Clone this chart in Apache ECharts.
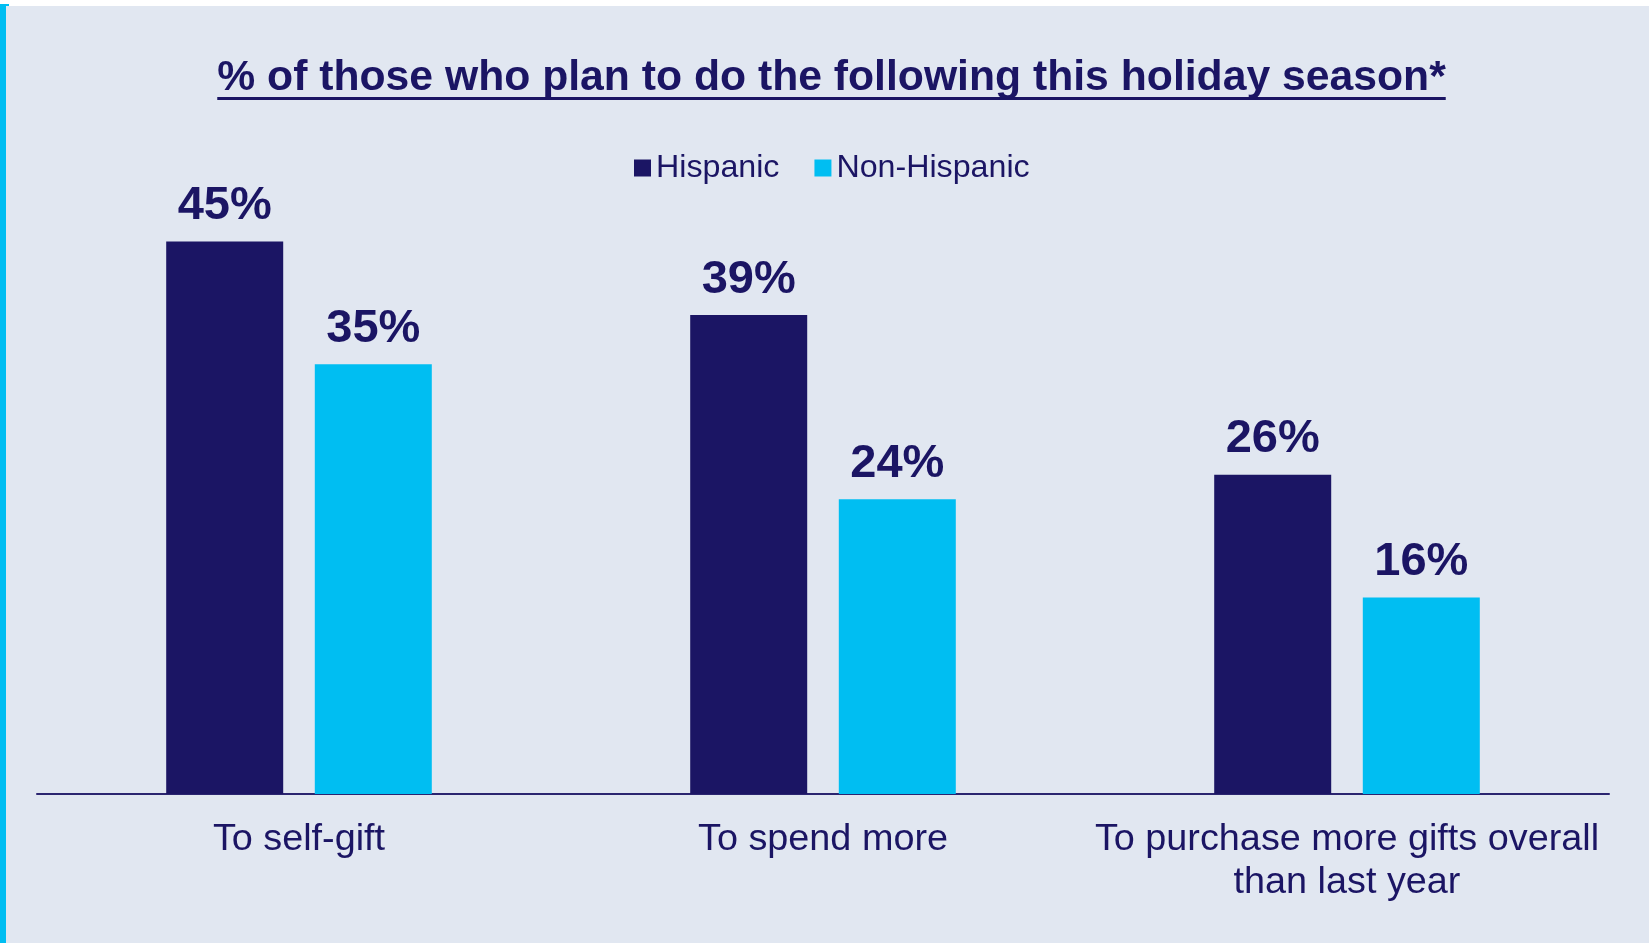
<!DOCTYPE html>
<html>
<head>
<meta charset="utf-8">
<title>Holiday plans</title>
<script src="https://cdn.jsdelivr.net/npm/echarts@6/dist/echarts.min.js"></script>
<style>
  html, body { margin: 0; padding: 0; background: #ffffff; }
  #main { width: 1649px; height: 943px; }
</style>
</head>
<body>
<div id="main"></div>
<script>
  // data
  var categories = ['To self-gift', 'To spend more', 'To purchase more gifts overall\nthan last year'];
  var hispanic = [45, 39, 26];
  var nonHispanic = [35, 24, 16];
  var seriesNames = ['Hispanic', 'Non-Hispanic'];
  var titleText = '% of those who plan to do the following this holiday season*';

  var navy = '#1B1564';
  var cyan = '#00BEF2';
  var font = '"Liberation Sans", Arial, sans-serif';

  // measure the title so the underline fits it
  var ctx = document.createElement('canvas').getContext('2d');
  ctx.font = 'bold 42.7px ' + font;
  var titleWidth = ctx.measureText(titleText).width;
  var titleCenter = 831.5;

  var chart = echarts.init(document.getElementById('main'));

  var option = {
    backgroundColor: '#E1E7F1',
    title: {
      text: titleText,
      left: titleCenter,
      top: 57,
      textAlign: 'center',
      padding: 0,
      textStyle: {
        color: navy,
        fontFamily: font,
        fontWeight: 'bold',
        fontSize: 42.7,
        lineHeight: 43
      }
    },
    legend: {
      data: seriesNames,
      left: 634,
      top: 152,
      padding: 0,
      itemWidth: 17,
      itemHeight: 17,
      itemGap: 35,
      icon: 'rect',
      textStyle: {
        color: navy,
        fontFamily: font,
        fontSize: 32.2
      }
    },
    grid: {
      left: 37,
      right: 40,
      top: 180,
      bottom: 149,
      containLabel: false
    },
    xAxis: {
      type: 'category',
      data: categories,
      axisLine: { lineStyle: { color: '#2B2570', width: 2 } },
      axisTick: { show: false },
      axisLabel: {
        color: navy,
        fontFamily: font,
        fontSize: 37.8,
        lineHeight: 43,
        margin: 24,
        interval: 0
      }
    },
    yAxis: {
      type: 'value',
      min: 0,
      max: 50,
      show: false,
      splitLine: { show: false }
    },
    series: [
      {
        name: seriesNames[0],
        type: 'bar',
        data: hispanic,
        barWidth: 117,
        barGap: '27%',
        itemStyle: { color: navy },
        label: {
          show: true,
          position: 'top',
          distance: 12,
          formatter: '{c}%',
          color: navy,
          fontFamily: font,
          fontWeight: 'bold',
          fontSize: 47
        }
      },
      {
        name: seriesNames[1],
        type: 'bar',
        data: nonHispanic,
        barWidth: 117,
        itemStyle: { color: cyan },
        label: {
          show: true,
          position: 'top',
          distance: 12,
          formatter: '{c}%',
          color: navy,
          fontFamily: font,
          fontWeight: 'bold',
          fontSize: 47
        }
      }
    ],
    graphic: [
      // white strip on top, cyan border on the left
      { type: 'rect', left: 0, top: 0, shape: { width: 1649, height: 6 }, style: { fill: '#ffffff' }, silent: true },
      { type: 'rect', left: 0, top: 4, shape: { width: 6, height: 939 }, style: { fill: cyan }, silent: true },
      { type: 'rect', left: 0, top: 4, shape: { width: 9, height: 2 }, style: { fill: cyan }, silent: true },
      // title underline
      {
        type: 'rect',
        left: titleCenter - titleWidth / 2,
        top: 97,
        shape: { width: titleWidth, height: 3 },
        style: { fill: navy },
        silent: true
      }
    ]
  };

  chart.setOption(option);
</script>
</body>
</html>
